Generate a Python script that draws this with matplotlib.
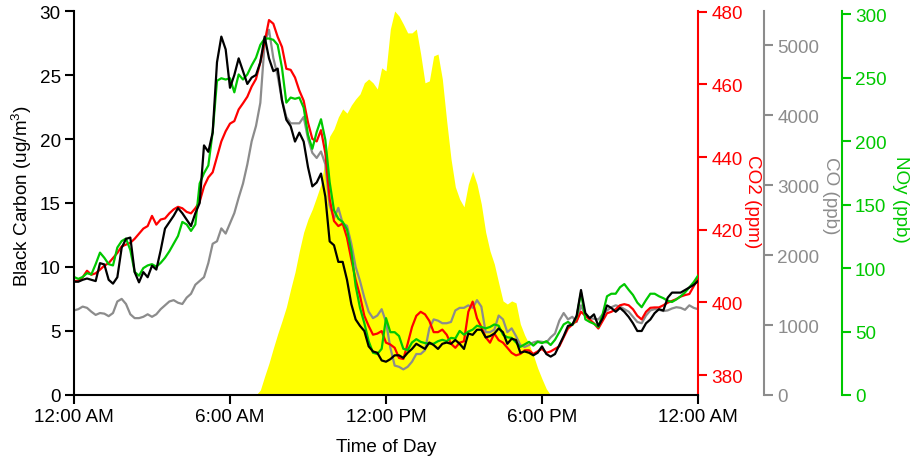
import numpy as np
import matplotlib
matplotlib.use("Agg")
import matplotlib.pyplot as plt

plt.rcParams["font.family"] = ["Liberation Sans", "DejaVu Sans"]
plt.rcParams["mathtext.fontset"] = "custom"
plt.rcParams["mathtext.rm"] = "Liberation Sans"
plt.rcParams["mathtext.it"] = "Liberation Sans:italic"
plt.rcParams["font.size"] = 13.6

# 10-minute time grid over one day (hours since midnight)
hours = np.arange(145) / 6.0

black_carbon = [
    8.85, 8.85, 9.0, 9.1, 9.0, 8.9, 10.3, 10.2, 9.0, 8.7, 9.2, 11.5,
    12.2, 12.3, 9.6, 8.8, 9.6, 9.2, 10.1, 9.8, 11.3, 13.0, 13.5, 14.0,
    14.6, 14.2, 13.7, 13.2, 14.2, 15.0, 19.5, 19.0, 20.5, 26.0, 28.0, 27.0,
    24.0, 25.0, 26.3, 25.3, 24.3, 24.8, 25.0, 26.0, 28.0, 26.3, 25.3, 25.5,
    23.0, 21.5, 21.0, 19.8, 20.5, 19.8, 17.8, 16.3, 16.6, 17.3, 15.5, 12.0,
    11.7, 10.4, 10.4, 9.0, 7.1, 5.9, 5.4, 5.0, 3.8, 3.4, 3.3, 2.7,
    2.6, 2.8, 3.1, 3.1, 2.9, 3.3, 3.6, 4.0, 3.8, 3.6, 4.1, 3.9,
    3.6, 4.0, 4.1, 4.0, 4.3, 4.0, 3.6, 4.8, 4.7, 5.1, 5.1, 4.5,
    4.6, 4.8, 5.2, 4.9, 4.0, 4.4, 4.3, 3.3, 3.4, 3.3, 3.1, 3.3,
    3.8, 3.2, 3.0, 3.2, 3.9, 4.6, 5.4, 5.5, 6.2, 8.2, 6.4, 6.0,
    6.3, 5.4, 6.0, 7.0, 6.8, 6.5, 6.8, 6.5, 6.1, 5.6, 5.0, 5.0,
    5.6, 5.9, 6.4, 6.7, 6.6, 7.6, 8.0, 8.0, 8.0, 8.2, 8.4, 8.6,
    8.9,
]

co2_ppm = [
    405.9, 405.9, 406.9, 408.7, 407.6, 408.0, 409.0, 410.1, 410.8, 412.2, 413.6, 415.4,
    415.9, 416.4, 417.5, 418.9, 420.3, 421.0, 423.8, 421.4, 422.8, 423.1, 424.5, 425.6,
    426.3, 425.9, 424.9, 424.5, 425.9, 427.7, 431.9, 434.4, 435.8, 440.0, 444.3, 447.1,
    449.2, 449.9, 453.1, 454.8, 456.6, 459.4, 461.5, 466.1, 471.7, 477.7, 476.7, 473.1,
    470.3, 464.3, 464.0, 461.9, 458.3, 455.5, 449.5, 445.0, 444.3, 447.4, 441.1, 428.4,
    422.4, 421.0, 421.7, 417.8, 411.8, 406.2, 401.8, 396.3, 393.5, 391.1, 391.4, 392.1,
    388.9, 388.4, 387.5, 384.7, 384.4, 388.6, 393.2, 396.3, 397.4, 396.7, 394.9, 391.8,
    391.8, 392.5, 391.1, 388.6, 387.5, 388.9, 389.3, 397.4, 400.2, 395.6, 393.2, 390.4,
    388.9, 391.4, 389.6, 388.9, 387.5, 386.1, 385.4, 385.8, 386.8, 386.8, 385.8, 386.5,
    387.2, 386.1, 386.5, 387.2, 387.9, 390.4, 392.8, 393.9, 394.9, 397.4, 396.3, 395.3,
    394.2, 392.8, 394.9, 397.0, 397.4, 398.1, 399.2, 399.5, 399.2, 398.1, 396.3, 395.3,
    397.4, 398.5, 398.6, 398.6, 399.2, 399.9, 400.4, 400.9, 401.6, 402.0, 402.3, 404.4,
    406.6,
]

co_ppb = [
    1209, 1227, 1264, 1246, 1191, 1145, 1172, 1163, 1127, 1172, 1337, 1374,
    1301, 1154, 1099, 1099, 1118, 1154, 1118, 1154, 1227, 1282, 1337, 1356,
    1319, 1301, 1392, 1447, 1576, 1630, 1685, 1887, 2162, 2198, 2382, 2308,
    2455, 2601, 2821, 3023, 3298, 3627, 3847, 4177, 5038, 5221, 4818, 4562,
    4214, 3975, 3884, 3884, 3884, 3975, 3664, 3462, 3389, 3481, 3298, 2711,
    2528, 2675, 2455, 2418, 2162, 1832, 1630, 1392, 1191, 1099, 1136, 1227,
    1044, 678, 421, 403, 366, 403, 476, 586, 586, 641, 953, 1081,
    1063, 1026, 1026, 1044, 1209, 1246, 1246, 1282, 1246, 1356, 1264, 898,
    898, 934, 1136, 1081, 898, 953, 843, 714, 687, 714, 751, 769,
    760, 751, 824, 879, 1063, 1172, 1081, 1118, 1044, 1282, 1136, 1099,
    1090, 1081, 1154, 1209, 1255, 1282, 1264, 1227, 1191, 1118, 1044, 1026,
    1136, 1209, 1227, 1218, 1200, 1209, 1237, 1255, 1246, 1218, 1282, 1246,
    1227,
]

noy_ppb = [
    93.0, 91.5, 93.0, 96.0, 95.0, 103.1, 112.2, 108.1, 103.1, 102.1, 116.2, 121.3,
    123.3, 114.2, 97.0, 94.0, 100.0, 102.1, 103.1, 101.1, 104.1, 108.1, 113.2, 119.2,
    125.3, 136.4, 134.4, 129.3, 134.4, 166.7, 174.8, 180.9, 207.2, 247.6, 249.6, 248.6,
    249.6, 238.5, 252.6, 248.6, 252.6, 259.7, 265.8, 275.9, 280.9, 280.9, 279.9, 275.9,
    257.7, 230.4, 234.4, 233.4, 234.4, 226.4, 205.1, 194.0, 207.2, 217.3, 201.1, 167.7,
    145.5, 138.9, 136.4, 130.4, 113.2, 85.9, 68.7, 56.6, 42.4, 33.3, 32.3, 36.4,
    60.6, 49.5, 49.5, 46.5, 36.4, 35.4, 41.4, 44.0, 41.9, 40.9, 40.4, 40.4,
    42.4, 43.5, 42.4, 45.0, 44.5, 50.5, 47.5, 50.0, 51.5, 54.6, 53.6, 52.5,
    53.6, 55.6, 54.6, 47.5, 45.5, 45.0, 41.4, 37.9, 39.9, 41.9, 38.9, 41.9,
    40.9, 42.4, 39.4, 43.5, 49.5, 55.6, 57.6, 55.1, 61.6, 80.8, 59.6, 57.6,
    56.1, 53.6, 63.7, 77.8, 79.8, 79.8, 84.9, 87.4, 82.9, 78.8, 72.8, 69.2,
    74.8, 79.8, 79.8, 77.8, 76.3, 74.3, 73.3, 75.3, 77.8, 80.8, 84.9, 88.9,
    94.0,
]

# Solar radiation (W/m2), shaded in the background
solar = [0] * 42 + [
    0, 13, 49, 83, 122, 159, 193, 229, 276, 320, 375, 424,
    458, 484, 516, 549, 615, 674, 693, 724, 745, 734, 755, 771,
    784, 813, 823, 813, 797, 852, 844, 953, 1000, 987, 966, 943,
    943, 953, 888, 813, 818, 883, 888, 823, 714, 615, 542, 510,
    490, 549, 583, 549, 497, 424, 375, 341, 292, 245, 237, 245,
    240, 185, 156, 133, 104, 70, 42, 16, 0,
] + [0] * 34

tick_hours = [0, 6, 12, 18, 24]
tick_labels = ["12:00 AM", "6:00 AM", "12:00 PM", "6:00 PM", "12:00 AM"]

RED = "#FF0000"
GRAY = "#8C8C8C"
GREEN = "#00C800"
LW = 1.6
FS = 13.6

fig = plt.figure(figsize=(9.1, 4.6), dpi=100)
rect = [74 / 910, 64 / 460, 624 / 910, 384 / 460]

ax = fig.add_axes(rect)
ax_sun = ax.twinx()
ax_co2 = ax.twinx()
ax_co = ax.twinx()
ax_noy = ax.twinx()

for z, a in enumerate([ax_sun, ax_co, ax_co2, ax_noy, ax]):
    a.set_zorder(z)
    a.patch.set_visible(False)

# background solar shading
ax_sun.fill_between(hours, solar, 0, color="#FFFF00", lw=0)
ax_sun.set_ylim(0, 1000)
ax_sun.axis("off")

ax_co.plot(hours, co_ppb, color=GRAY, lw=LW)
ax_co2.plot(hours, co2_ppm, color=RED, lw=LW)
ax_noy.plot(hours, noy_ppb, color=GREEN, lw=LW)
ax.plot(hours, black_carbon, color="black", lw=LW)

ax.set_xlim(0, 24)
ax.set_ylim(0, 30)
ax_co2.set_ylim(374.5, 480.2)
ax_co.set_ylim(0, 5490)
ax_noy.set_ylim(0, 302.6)

tick_kw = dict(direction="out", length=6.5, width=1.5, labelsize=FS)

ax.set_xticks(tick_hours)
ax.set_xticklabels(tick_labels)
ax.set_yticks(range(0, 31, 5))
ax.tick_params(axis="both", pad=3, **tick_kw)
for s in ["top", "right"]:
    ax.spines[s].set_visible(False)
for s in ["left", "bottom"]:
    ax.spines[s].set_linewidth(1.5)

def style_right(a, color, pos, ticks):
    for s in ["top", "left", "bottom"]:
        a.spines[s].set_visible(False)
    a.spines["right"].set_visible(True)
    a.spines["right"].set_position(("axes", pos))
    a.spines["right"].set_color(color)
    a.spines["right"].set_linewidth(1.5)
    a.set_yticks(ticks)
    a.tick_params(axis="y", colors=color, labelcolor=color, pad=3, **tick_kw)
    a.xaxis.set_visible(False)

style_right(ax_co2, RED, 1.0, range(380, 481, 20))
style_right(ax_co, GRAY, (764 - 74) / 624, range(0, 5001, 1000))
style_right(ax_noy, GREEN, (841.7 - 74) / 624, range(0, 301, 50))

fig.text(386 / 910, 1 - 448 / 460, "Time of Day", ha="center", va="center", fontsize=FS)
fig.text(22 / 910, 1 - 196 / 460, "Black Carbon (ug/m$^3$)", rotation=90,
         ha="center", va="center", fontsize=FS)
fig.text(752 / 910, 1 - 202 / 460, "CO2 (ppm)", rotation=270,
         ha="center", va="center", fontsize=FS, color=RED)
fig.text(830 / 910, 1 - 196 / 460, "CO (ppb)", rotation=270,
         ha="center", va="center", fontsize=FS, color=GRAY)
fig.text(901 / 910, 1 - 199 / 460, "NOy (ppb)", rotation=270,
         ha="center", va="center", fontsize=FS, color=GREEN)

fig.savefig("out.png", dpi=100, facecolor="white")
